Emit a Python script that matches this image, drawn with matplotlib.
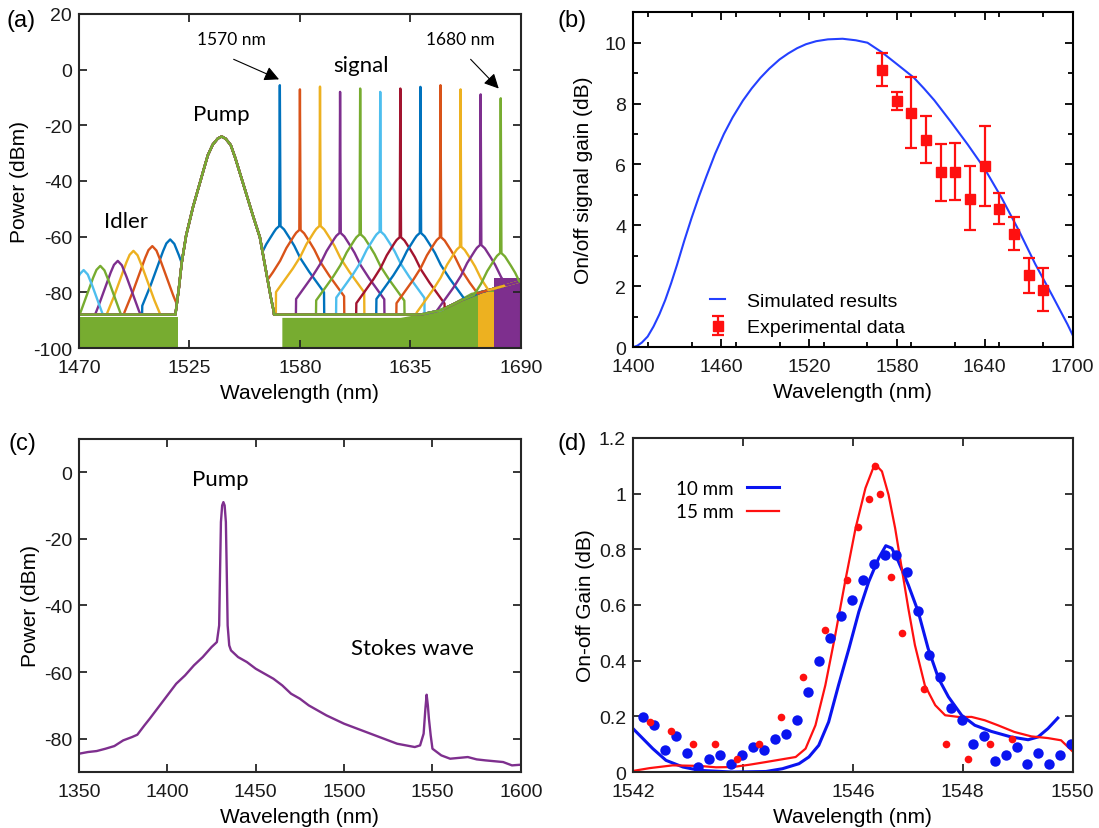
import numpy as np
import matplotlib.pyplot as plt
from matplotlib.ticker import MultipleLocator

plt.rcParams['font.family'] = ['Liberation Sans', 'DejaVu Sans']
plt.rcParams['axes.unicode_minus'] = False
ANN = ['Lato', 'DejaVu Sans']

# ---------- panel (a): OPA spectra ----------
sig_wl = [1570, 1580, 1590, 1600, 1610, 1620, 1630, 1640, 1650, 1660, 1670, 1680]
sig_peak = [-5.6, -7.1, -6.1, -8.0, -6.8, -8.0, -6.8, -6.2, -5.6, -7.1, -8.9, -10.3]
hump_peak = [-56, -57.4, -56, -58.5, -59, -58, -60, -58.5, -60, -63.4, -62.8, -65.7]
idler_wl = [1515.4, 1506.5, 1497.1, 1489.3, 1480.6, 1472.3]
idler_peak = [-61, -63.4, -65.1, -68.7, -70.5, -72]
trace_colors = ['#0072BD', '#D95319', '#EDB120', '#7E2F8E', '#77AC30', '#4DBEEE',
                '#A2142F', '#0072BD', '#D95319', '#EDB120', '#7E2F8E', '#77AC30']

pump_wl = [1518, 1519.5, 1521, 1523.2, 1526.5, 1530.5, 1534, 1536.5, 1539, 1541,
           1543, 1545.5, 1547.5, 1551.3, 1555.5, 1560, 1562.5, 1565, 1567]
pump_db = [-88, -80, -70, -60, -50, -40, -31, -27, -24.8, -24,
           -24.8, -27, -31, -40, -50, -60, -70, -80, -87]

# hump shapes (offset in nm, drop from hump top in dB)
sig_dx = [-22, -18, -14, -10, -7, -4, -2, 0, 2, 4, 7, 10, 14, 18, 22]
sig_drop = [-24, -20, -16, -11.5, -7, -3.5, -1.3, 0, -1.3, -3.5, -7, -11.5, -16, -20, -24]
idl_dx = [-14, -10, -7, -4, -2, 0, 2, 4, 7, 10, 14]
idl_drop = [-24, -17, -11, -5, -1.5, 0, -1.5, -5, -11, -17, -24]

floor_wl = [1470, 1640, 1650, 1660, 1670, 1680, 1690]
floor_db = [-88, -88, -86.5, -83, -80, -78, -76]

noise_left_wl = [1470, 1519.5]
noise_left_top = [-89, -89]
noise_right_wl = [1571, 1630, 1645, 1655, 1665, 1690]
noise_right_top = [-89, -89, -87, -84, -80, -76]
yellow_wl = [1668.5, 1676.5]
yellow_top = [-80, -80]
purple_wl = [1676.5, 1690]
purple_top = [-75, -75]

# ---------- panel (b): gain vs wavelength ----------
sim_wl = [1400, 1403, 1406, 1410, 1414, 1418, 1422, 1426, 1430, 1435, 1440, 1445,
          1450, 1456, 1462, 1468, 1475, 1481, 1487, 1493, 1500, 1506, 1512, 1518,
          1525, 1533, 1543, 1552, 1560, 1570, 1580, 1586, 1591.7, 1598.5, 1605.6,
          1617.1, 1628.5, 1640.1, 1651.6, 1663.1, 1674.6, 1686.2, 1696.5, 1700]
sim_gain = [0, 0.05, 0.15, 0.35, 0.68, 1.08, 1.55, 2.1, 2.7, 3.5, 4.25, 4.95,
            5.6, 6.35, 7.0, 7.55, 8.1, 8.5, 8.85, 9.15, 9.45, 9.65, 9.82, 9.95,
            10.05, 10.11, 10.13, 10.08, 10.0, 9.68, 9.3, 9.07, 8.85, 8.5, 8.11,
            7.39, 6.65, 5.85, 4.9, 3.85, 2.72, 1.69, 0.75, 0.4]
exp_wl = [1570, 1580, 1590, 1600, 1610, 1620, 1630, 1640, 1650, 1660, 1670, 1680]
exp_gain = [9.11, 8.07, 7.70, 6.82, 5.74, 5.77, 4.88, 5.95, 4.55, 3.73, 2.36, 1.87]
exp_hi = [9.67, 8.38, 8.87, 7.58, 6.68, 6.71, 5.94, 7.28, 5.07, 4.28, 2.93, 2.60]
exp_lo = [8.57, 7.78, 6.54, 6.06, 4.79, 4.83, 3.84, 4.64, 4.03, 3.18, 1.79, 1.18]

# ---------- panel (c): Raman spectrum ----------
c_wl = [1350, 1355, 1360, 1365, 1370, 1375, 1380, 1383, 1387, 1390, 1395, 1400, 1405, 1410,
        1415, 1420, 1425, 1428, 1429.3, 1429.8, 1430.3, 1431, 1431.7, 1432.4, 1433.1,
        1433.6, 1434.1, 1435, 1436,
        1440, 1445, 1450, 1455, 1460, 1465, 1470, 1475, 1480, 1490, 1500, 1510,
        1520, 1530, 1540, 1543, 1545, 1546, 1546.7, 1547.4, 1548, 1549, 1550, 1555, 1560,
        1570, 1575, 1580, 1590, 1595, 1600]
c_db = [-84.5, -84, -83.7, -83, -82.2, -80.5, -79.5, -78.8, -76, -74, -70.5, -67, -63.5, -61,
        -58, -55.5, -52.5, -51, -46, -30, -15, -10, -9, -10, -15,
        -30, -46, -52, -53.5,
        -55.5, -57, -59, -60.5, -62, -64, -66.5, -68, -70, -73, -75.5, -77.5,
        -79.5, -81.5, -82.5, -82, -78.5, -71, -66.8, -70, -74, -79, -83, -85, -86,
        -85.5, -86.2, -86.5, -87, -88, -87.8]

# ---------- panel (d): on-off gain ----------
blue_pt_wl = [1542.18, 1542.38, 1542.59, 1542.79, 1542.98, 1543.18, 1543.38, 1543.58,
              1543.78, 1543.98, 1544.18, 1544.38, 1544.58, 1544.78, 1544.98, 1545.18,
              1545.38, 1545.58, 1545.78, 1545.98, 1546.18, 1546.38, 1546.58, 1546.78,
              1546.98, 1547.18, 1547.38, 1547.58, 1547.78, 1547.98, 1548.18, 1548.38,
              1548.58, 1548.78, 1548.98, 1549.17, 1549.37, 1549.57, 1549.77, 1549.97]
blue_pt_gain = [0.198, 0.168, 0.078, 0.128, 0.068, 0.018, 0.048, 0.060,
                0.030, 0.060, 0.089, 0.078, 0.119, 0.138, 0.188, 0.288,
                0.399, 0.480, 0.559, 0.619, 0.689, 0.749, 0.779, 0.779,
                0.719, 0.580, 0.419, 0.340, 0.229, 0.188, 0.100, 0.128,
                0.040, 0.060, 0.089, 0.030, 0.068, 0.030, 0.060, 0.100]
red_pt_wl = [1542.30, 1542.70, 1543.10, 1543.50, 1543.90, 1544.29, 1544.69, 1545.10,
             1545.50, 1545.89, 1546.09, 1546.29, 1546.40, 1546.50, 1546.70, 1546.90,
             1547.30, 1547.70, 1548.10, 1548.50, 1548.90]
red_pt_gain = [0.180, 0.149, 0.100, 0.100, 0.048, 0.100, 0.199, 0.340,
               0.509, 0.689, 0.880, 0.980, 1.101, 1.000, 0.700, 0.499,
               0.299, 0.100, 0.048, 0.100, 0.120]
blue_fit_wl = [1542.00, 1542.18, 1542.36, 1542.60, 1542.91, 1543.21, 1543.81, 1544.42,
               1544.72, 1545.02, 1545.20, 1545.38, 1545.56, 1545.74, 1545.93, 1546.11,
               1546.29, 1546.47, 1546.60, 1546.71, 1546.83, 1547.01, 1547.19, 1547.37,
               1547.56, 1547.74, 1547.98, 1548.22, 1548.52, 1548.88, 1549.19, 1549.37,
               1549.55, 1549.73]
blue_fit_gain = [0.156, 0.12, 0.084, 0.042, 0.018, 0.006, 0.0, 0.002,
                 0.012, 0.030, 0.054, 0.096, 0.18, 0.312, 0.444, 0.576,
                 0.684, 0.768, 0.813, 0.804, 0.756, 0.672, 0.576, 0.444,
                 0.336, 0.270, 0.204, 0.168, 0.146, 0.126, 0.116, 0.126,
                 0.156, 0.194]
red_fit_wl = [1542.00, 1542.30, 1542.72, 1543.21, 1543.51, 1543.81, 1544.11, 1544.42,
              1544.72, 1544.96, 1545.14, 1545.32, 1545.50, 1545.68, 1545.86, 1546.05,
              1546.23, 1546.40, 1546.53, 1546.65, 1546.77, 1546.89, 1547.01, 1547.13,
              1547.31, 1547.50, 1547.68, 1547.92, 1548.16, 1548.40, 1548.64, 1548.94,
              1549.25, 1549.55, 1549.79, 1550.00]
red_fit_gain = [0.004, 0.014, 0.024, 0.022, 0.017, 0.018, 0.026, 0.036,
                0.046, 0.054, 0.084, 0.168, 0.312, 0.492, 0.684, 0.876,
                1.02, 1.107, 1.08, 0.996, 0.876, 0.732, 0.588, 0.456,
                0.312, 0.240, 0.204, 0.198, 0.198, 0.186, 0.168, 0.144,
                0.128, 0.122, 0.114, 0.074]


def style_axes(ax, color='#262626', size=14):
    for s in ax.spines.values():
        s.set_color(color)
        s.set_linewidth(1.5)
    ax.tick_params(which='both', direction='in', top=True, right=True,
                   colors=color, labelcolor='#1a1a1a', labelsize=size, width=1.3)
    ax.tick_params(axis='x', pad=8)
    ax.tick_params(axis='y', pad=5)
    ax.tick_params(which='major', length=6)
    ax.tick_params(which='minor', length=3.5)


fig = plt.figure(figsize=(10.99, 8.29), dpi=100)
ax_a = fig.add_axes([0.0719, 0.579, 0.402, 0.403])
ax_b = fig.add_axes([0.576, 0.580, 0.400, 0.404])
ax_c = fig.add_axes([0.0719, 0.0675, 0.402, 0.402])
ax_d = fig.add_axes([0.576, 0.0675, 0.400, 0.403])

# ---- (a)
ax_a.fill_between(noise_left_wl, -100, noise_left_top, color='#77AC30', lw=0)
ax_a.fill_between(noise_right_wl, -100, noise_right_top, color='#77AC30', lw=0)
ax_a.fill_between(yellow_wl, -100, yellow_top, color='#EDB120', lw=0)
ax_a.fill_between(purple_wl, -100, purple_top, color='#7E2F8E', lw=0)

wl = np.arange(1470, 1690.001, 0.05)
for i, c in enumerate(sig_wl):
    y = np.interp(wl, floor_wl, floor_db)
    y = np.maximum(y, np.interp(wl, pump_wl, pump_db, left=-200, right=-200))
    if i < len(idler_wl):
        y = np.maximum(y, np.interp(wl, np.add(idler_wl[i], idl_dx),
                                    np.add(idler_peak[i], idl_drop), left=-200, right=-200))
    y = np.maximum(y, np.interp(wl, np.add(c, sig_dx), np.add(hump_peak[i], sig_drop),
                                left=-200, right=-200))
    y = np.maximum(y, np.interp(wl, [c - 0.3, c, c + 0.3],
                                [hump_peak[i], sig_peak[i], hump_peak[i]], left=-200, right=-200))
    ax_a.plot(wl, y, color=trace_colors[i], lw=1.7)

ax_a.set_xlim(1470, 1690)
ax_a.set_ylim(-100, 20)
ax_a.set_xticks([1470, 1525, 1580, 1635, 1690])
ax_a.set_yticks(range(-100, 21, 20))
ax_a.set_xlabel('Wavelength (nm)', fontsize=15, labelpad=5)
ax_a.set_ylabel('Power (dBm)', fontsize=15, labelpad=3)
style_axes(ax_a)
arrow = dict(arrowstyle='-|>', color='k', lw=0.8, mutation_scale=22, shrinkA=0, shrinkB=0)
ax_a.text(1545.8, 10.9, '1570 nm', ha='center', va='center', fontsize=12.5, family=ANN)
ax_a.annotate('', xy=(1569.6, -3.5), xytext=(1547, 3.7), arrowprops=arrow)
ax_a.text(1660, 10.9, '1680 nm', ha='center', va='center', fontsize=12.5, family=ANN)
ax_a.annotate('', xy=(1679, -6.8), xytext=(1665, 3.7), arrowprops=arrow)
ax_a.text(1610.4, 1.5, 'signal', ha='center', va='center', fontsize=16, family=ANN)
ax_a.text(1541, -16, 'Pump', ha='center', va='center', fontsize=16, family=ANN)
ax_a.text(1493.6, -54.4, 'Idler', ha='center', va='center', fontsize=16, family=ANN)

# ---- (b)
ax_b.plot(sim_wl, sim_gain, color='#2440ff', lw=1.5, label='Simulated results')
yerr = [np.subtract(exp_gain, exp_lo), np.subtract(exp_hi, exp_gain)]
ax_b.errorbar(exp_wl, exp_gain, yerr=yerr, fmt='s', color='#ff1010', ms=7,
              elinewidth=1.6, capsize=4, capthick=1.6, label='Experimental data')
ax_b.set_xlim(1400, 1700)
ax_b.set_ylim(0, 11)
ax_b.set_xticks(range(1400, 1701, 60))
ax_b.set_yticks(range(0, 11, 2))
ax_b.xaxis.set_minor_locator(MultipleLocator(30))
ax_b.yaxis.set_minor_locator(MultipleLocator(1))
ax_b.set_xlabel('Wavelength (nm)', fontsize=15, labelpad=5)
ax_b.set_ylabel('On/off signal gain (dB)', fontsize=15, labelpad=8)
style_axes(ax_b, color='black')
ax_b.legend(loc='lower left', bbox_to_anchor=(0.135, -0.02), frameon=False, fontsize=14,
            handlelength=0.8, handletextpad=1.1, labelspacing=0.45)

# ---- (c)
ax_c.plot(c_wl, c_db, color='#7E2F8E', lw=1.7)
ax_c.set_xlim(1350, 1600)
ax_c.set_ylim(-90, 10)
ax_c.set_xticks(range(1350, 1601, 50))
ax_c.set_yticks(range(-80, 1, 20))
ax_c.set_xlabel('Wavelength (nm)', fontsize=15, labelpad=5)
ax_c.set_ylabel('Power (dBm)', fontsize=15, labelpad=3)
style_axes(ax_c)
ax_c.text(1430, -2, 'Pump', ha='center', va='center', fontsize=16, family=ANN)
ax_c.text(1538.4, -52.8, 'Stokes wave', ha='center', va='center', fontsize=16, family=ANN)

# ---- (d)
ax_d.plot(blue_fit_wl, blue_fit_gain, color='#0a14f0', lw=2.2, label='10 mm')
ax_d.plot(red_fit_wl, red_fit_gain, color='#ff1010', lw=1.6, label='15 mm')
ax_d.plot(blue_pt_wl, blue_pt_gain, 'o', color='#0a14f0', ms=7.5, mec='none')
ax_d.plot(red_pt_wl, red_pt_gain, 'o', color='#ff1010', ms=5.5, mec='none')
ax_d.set_xlim(1542, 1550)
ax_d.set_ylim(0, 1.2)
ax_d.set_xticks(range(1542, 1551, 2))
ax_d.set_yticks([0, 0.2, 0.4, 0.6, 0.8, 1, 1.2])
ax_d.set_yticklabels(['0', '0.2', '0.4', '0.6', '0.8', '1', '1.2'])
ax_d.set_xlabel('Wavelength (nm)', fontsize=15, labelpad=5)
ax_d.set_ylabel('On-off Gain (dB)', fontsize=15, labelpad=3)
style_axes(ax_d)
ax_d.legend(loc='upper left', bbox_to_anchor=(0.06, 0.925), frameon=False,
            prop={'family': ANN, 'size': 13.5}, markerfirst=False, handlelength=1.7,
            handletextpad=0.7, labelspacing=0.35)

for lab, x, y in [('(a)', 0.006, 0.975), ('(b)', 0.507, 0.975),
                  ('(c)', 0.008, 0.465), ('(d)', 0.507, 0.465)]:
    fig.text(x, y, lab, fontsize=17, va='center')

fig.savefig('out.png', dpi=100)
